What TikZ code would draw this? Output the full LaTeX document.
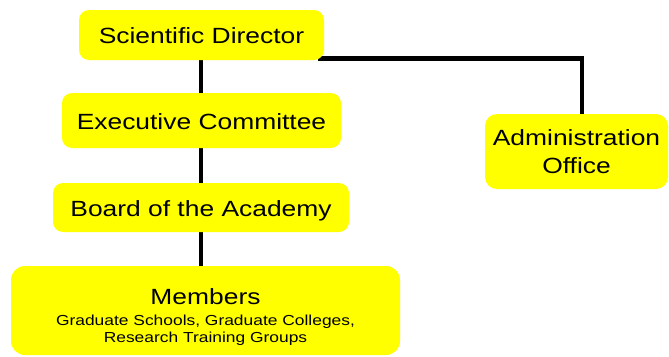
\documentclass[tikz,border=0pt]{standalone}
\usepackage{fontspec}
\setmainfont{Liberation Sans}[FakeStretch=1.2]
\usetikzlibrary{backgrounds}
\definecolor{boxyellow}{HTML}{FFFF00}
\tikzset{
  orgbox/.style={fill=boxyellow, draw=none, rounded corners=10pt, inner sep=0pt,
    text height=17pt, text depth=0pt, font=\fontsize{22}{28}\selectfont},
  bigbox/.style={orgbox, rounded corners=14pt, text height=, text depth=},
  lbl/.style={inner sep=0pt},
  link/.style={line width=4.7pt, black}
}
\begin{document}
\begin{tikzpicture}[x=1pt,y=-1pt]
\useasboundingbox (0,0) rectangle (669,356);
\node[orgbox, minimum width=245pt, minimum height=50pt] (sd) at (201.5,35) {Scientific Director};
\node[orgbox, minimum width=279pt, minimum height=55pt] (ec) at (201.5,120.5) {Executive Committee};
\node[orgbox, minimum width=296pt, minimum height=49pt] (ba) at (201,207.5) {Board of the Academy};
\node[bigbox, minimum width=389pt, minimum height=89pt] (mem) at (205.5,310.5) {};
\node[orgbox, text height=, text depth=, align=center, rounded corners=12pt,
      minimum width=183pt, minimum height=75pt] (adm) at (576.5,151.5) {Administration\\Office};
\node[lbl, anchor=base, font=\fontsize{22}{28}\selectfont] (memA) at (205.5,304) {Members};
\node[lbl, anchor=north, align=center, font=\fontsize{14.5}{17}\selectfont] (memB) at (205.5,314.4)
  {Graduate Schools, Graduate Colleges,\\Research Training Groups};
\begin{scope}[on background layer]
  \draw[link] ([xshift=-0.5pt]sd.center) -- ([xshift=-0.5pt]sd.center |- mem.north);
  \draw[link] ([yshift=2pt,xshift=-6pt]sd.south east) -| ([xshift=5.5pt]adm.north);
\end{scope}
\end{tikzpicture}
\end{document}
